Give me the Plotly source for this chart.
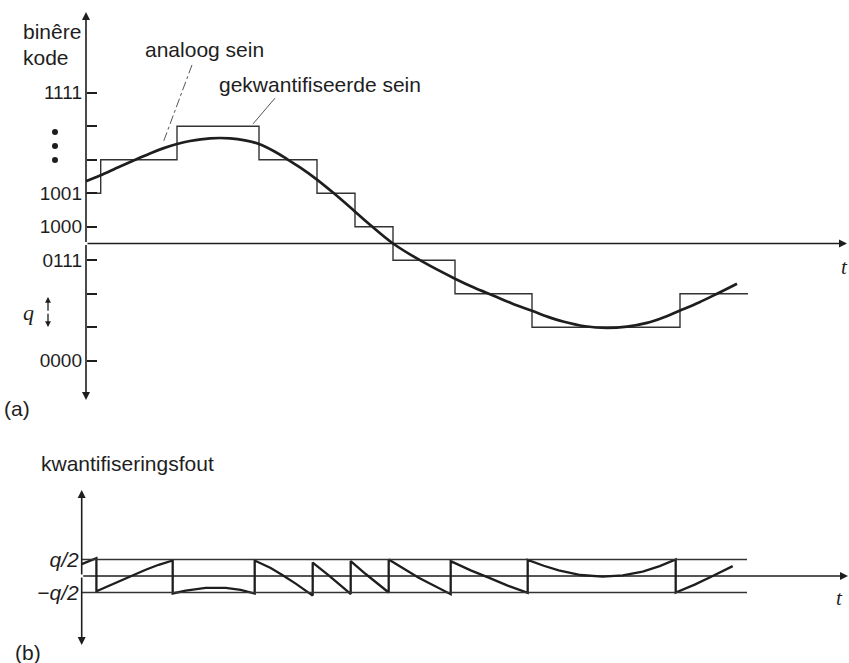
import numpy as np
import plotly.graph_objects as go

# ---------------- data (time in arbitrary units, amplitude in steps q) ----------------
analog_t = [0.0, 0.35, 0.85, 1.275, 1.6, 1.925, 2.275, 2.6, 3.1, 3.6, 3.975, 4.325,
            4.725, 5.025, 5.35, 5.75, 6.175, 6.7, 7.1, 7.675, 8.425, 9.225, 9.725,
            10.175, 10.65, 11.15, 11.55, 11.925, 12.475, 13.025, 13.525, 14.025,
            14.45, 14.85, 15.325, 15.775, 16.275]
analog_v = [1.86, 2.03, 2.3, 2.52, 2.69, 2.84, 2.97, 3.06, 3.14, 3.14, 3.08, 2.97,
            2.74, 2.52, 2.27, 1.93, 1.52, 0.98, 0.56, 0.0, -0.55, -1.05, -1.33,
            -1.55, -1.79, -2.01, -2.19, -2.33, -2.47, -2.52, -2.48, -2.37,
            -2.2, -2.0, -1.76, -1.5, -1.2]

step_edges = [0.0, 0.3675, 2.275, 4.325, 5.775, 6.725, 7.675, 9.225, 11.15, 14.85, 16.55]
step_levels = [1.5, 2.5, 3.5, 2.5, 1.5, 0.5, -0.5, -1.5, -2.5, -1.5]

code_vals = [4.5, 3.5, 2.5, 1.5, 0.5, -0.5, -1.5, -2.5, -3.5]
code_text = ["1111", "", "", "1001", "1000", "0111", "", "", "0000"]

err_vals = [0.5, -0.5]
err_text = ["q/2", "\u2212q/2"]

# ---------------- quantisation error = analog - quantised ----------------
at = np.array(analog_t)
av = np.array(analog_v)
t_end = at[-1]
err_t, err_v = [], []
for i, lev in enumerate(step_levels):
    a, b = step_edges[i], min(step_edges[i + 1], t_end)
    if a >= t_end:
        break
    ts = [a] + [t for t in analog_t if a < t < b] + [b]
    err_t += ts
    err_v += list(np.interp(ts, at, av) - lev)

# ---------------- geometry ----------------
W, H = 849, 663
SX = 40.0              # px per time unit
X0A, X0B = 86.0, 81.7  # px position of vertical axes
Y0A, SYA = 243.5, 33.5  # top panel: zero line px, px per q
Y0B, SYB = 576.0, 33.0  # bottom panel
TOPB = 420.0
BOTT = 430.0

INK = "#1e1e1e"
SANS = "Liberation Sans, Arial, sans-serif"
SERIF = "Liberation Serif, Times New Roman, serif"

fig = go.Figure()
fig.add_trace(go.Scatter(x=step_edges, y=step_levels + [step_levels[-1]], mode="lines",
                         line=dict(color="#333", width=1.4, shape="hv"),
                         xaxis="x", yaxis="y", hoverinfo="skip"))
fig.add_trace(go.Scatter(x=analog_t, y=analog_v, mode="lines",
                         line=dict(color=INK, width=2.7, shape="spline", smoothing=1.0),
                         xaxis="x", yaxis="y", hoverinfo="skip"))
# vertical dots on code axis
fig.add_trace(go.Scatter(x=[-0.775] * 3, y=[3.33, 2.91, 2.49], mode="markers",
                         marker=dict(color=INK, size=6), xaxis="x", yaxis="y",
                         hoverinfo="skip", cliponaxis=False))
fig.add_trace(go.Scatter(x=err_t, y=err_v, mode="lines",
                         line=dict(color=INK, width=2.3),
                         xaxis="x2", yaxis="y2", hoverinfo="skip"))

shapes = []
for v in err_vals:
    shapes.append(dict(type="line", xref="x2", yref="y2", x0=0, x1=(747 - X0B) / SX,
                       y0=v, y1=v, line=dict(color="#333", width=1.4)))
# leader lines
shapes.append(dict(type="line", xref="x", yref="y", x0=2.65, y0=5.33, x1=1.925, y1=3.0,
                   line=dict(color="#555", width=1, dash="dashdot")))
shapes.append(dict(type="line", xref="x", yref="y", x0=4.725, y0=4.34, x1=4.175, y1=3.57,
                   line=dict(color="#555", width=1)))

ann = []
def arrow(x, y, ax, ay, xr, yr, size=1.0, width=1.6):
    ann.append(dict(x=x, y=y, ax=ax, ay=ay, xref=xr, yref=yr, axref=xr, ayref=yr,
                    showarrow=True, arrowhead=2, arrowsize=size, arrowwidth=width,
                    arrowcolor=INK, text="", standoff=0, startstandoff=0))

# top axes
arrow(0, (Y0A - 12) / SYA, 0, 0, "x", "y")
arrow(0, (Y0A - 400) / SYA, 0, 0, "x", "y")
arrow((847 - X0A) / SX, 0, 0, 0, "x", "y")
# q arrow
qx = (48 - X0A) / SX
arrow(qx, (Y0A - 297) / SYA, qx, -2.05, "x", "y", size=0.9, width=1.3)
arrow(qx, (Y0A - 327) / SYA, qx, -2.05, "x", "y", size=0.9, width=1.3)
# bottom axes
arrow(0, (Y0B - 490) / SYB, 0, 0, "x2", "y2")
arrow(0, (Y0B - 645) / SYB, 0, 0, "x2", "y2")
arrow((848 - X0B) / SX, 0, 0, 0, "x2", "y2")

def text(s, x, y, xa="left", family=SANS, size=21, italic=False):
    ann.append(dict(text=s, x=x / W, y=1 - y / H, xref="paper", yref="paper",
                    xanchor=xa, yanchor="middle", showarrow=False,
                    font=dict(family=family, size=size, color=INK,
                              style="italic" if italic else "normal")))

text("binêre", 21, 31)
text("kode", 21, 57)
text("analoog sein", 143, 50)
text("gekwantifiseerde sein", 217, 84)
text("q", 28, 312, xa="center", family=SERIF, size=22, italic=True)
text("(a)", 2, 408)
text("t", 844, 267, xa="center", family=SERIF, size=21, italic=True)
text("kwantifiseringsfout", 39, 463)
text("(b)", 13, 652)
text("t", 839, 598, xa="center", family=SERIF, size=21, italic=True)

fig.update_layout(
    width=W, height=H, margin=dict(l=0, r=0, t=0, b=0),
    paper_bgcolor="white", plot_bgcolor="white", showlegend=False,
    xaxis=dict(domain=[0, 1], range=[-X0A / SX, (W - X0A) / SX], visible=False, anchor="y"),
    xaxis2=dict(domain=[0, 1], range=[-X0B / SX, (W - X0B) / SX], visible=False, anchor="y2"),
    yaxis=dict(domain=[1 - TOPB / H, 1], range=[(Y0A - TOPB) / SYA, Y0A / SYA],
               anchor="free", position=X0A / W, tickvals=code_vals, ticktext=code_text,
               ticks="inside", ticklen=10, tickwidth=1.5, tickcolor=INK,
               showline=False, showgrid=False, zeroline=False, ticklabelstandoff=4,
               tickfont=dict(family=SANS, size=19, color=INK)),
    yaxis2=dict(domain=[0, 1 - BOTT / H], range=[(Y0B - H) / SYB, (Y0B - BOTT) / SYB],
                anchor="free", position=X0B / W, tickvals=err_vals, ticktext=err_text,
                ticks="", showline=False, showgrid=False, zeroline=False,
                ticklabelstandoff=3,
                tickfont=dict(family=SANS, size=21, color=INK, style="italic")),
    shapes=shapes, annotations=ann,
)
fig.write_html("out.html", config={"displayModeBar": False},
               post_script="document.body.style.margin='0px';")
